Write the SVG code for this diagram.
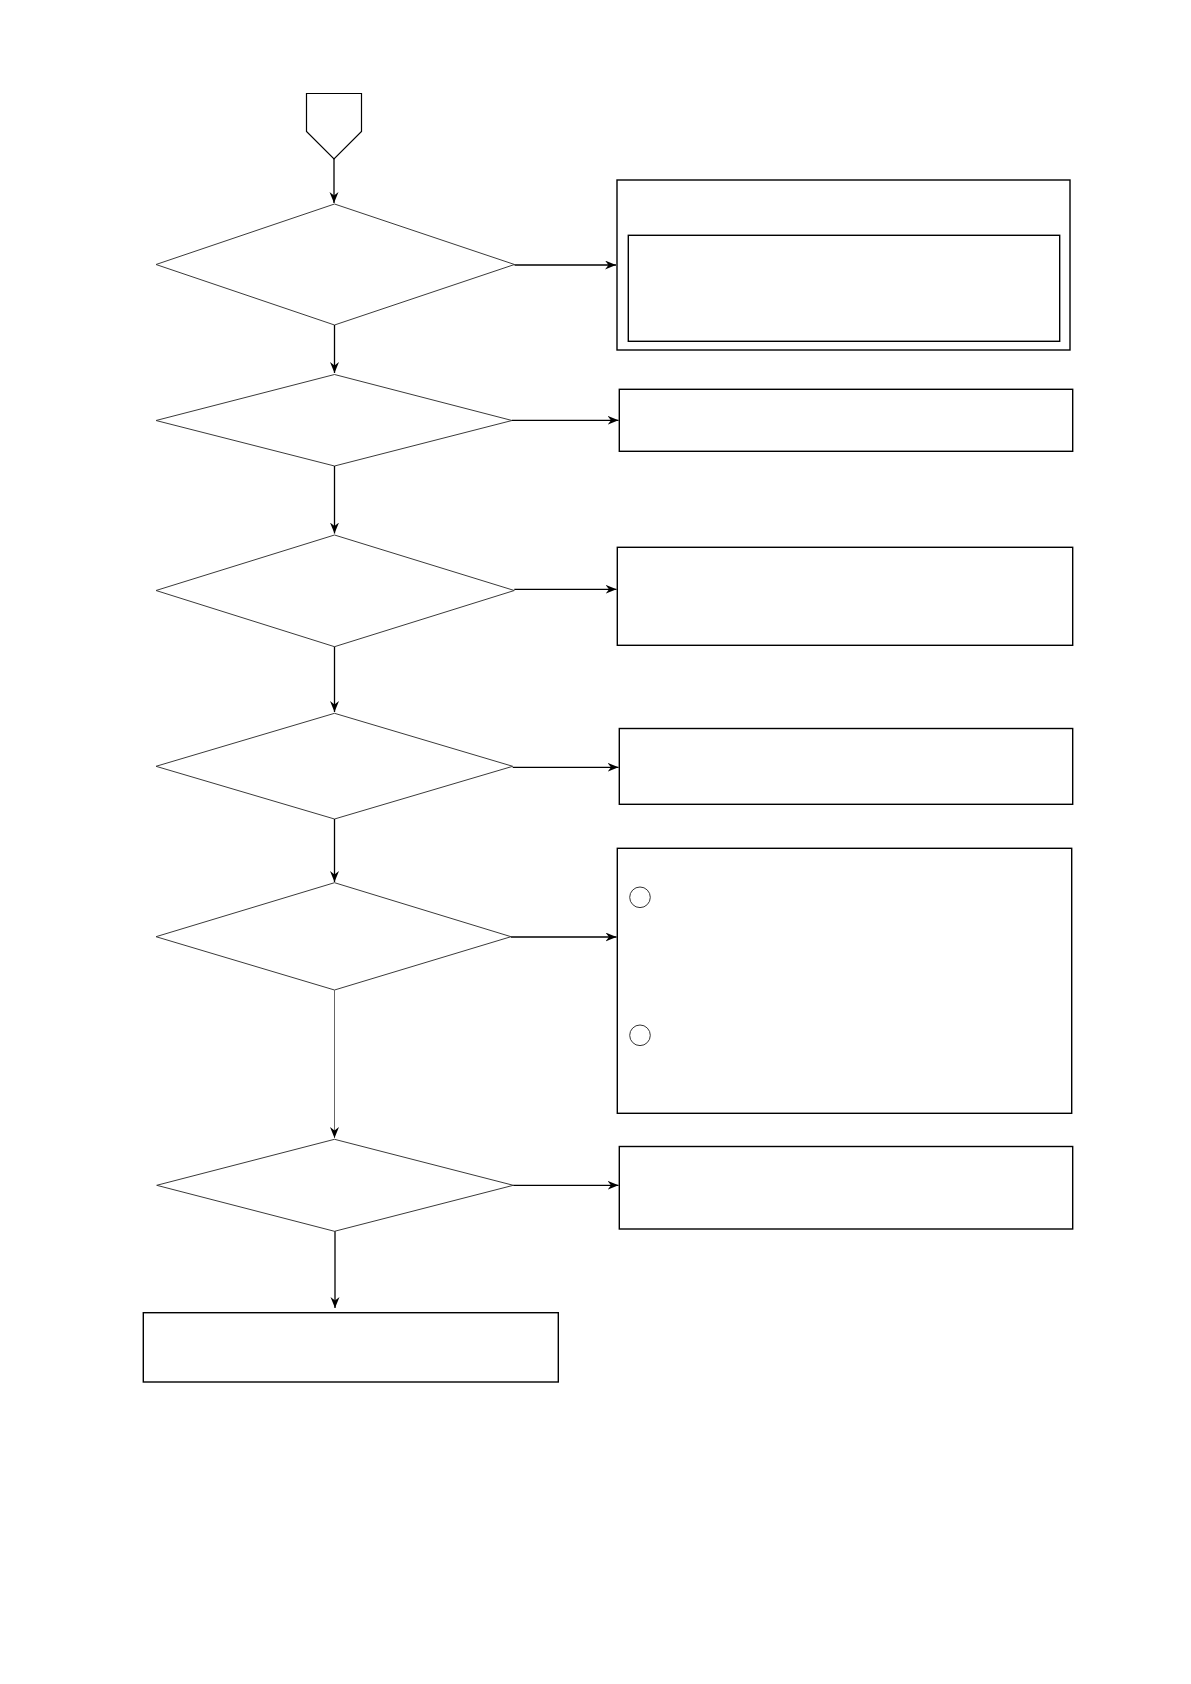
<svg xmlns="http://www.w3.org/2000/svg" width="1191" height="1684" viewBox="0 0 1191 1684">
  <style>
    .box { fill: none; stroke: #000; stroke-width: 1.4; }
    .dia { fill: none; stroke: #3a3a3a; stroke-width: 1; }
    .pent { fill: none; stroke: #000; stroke-width: 1.2; }
    .circ { fill: none; stroke: #333; stroke-width: 1; }
    .arr { fill: none; stroke: #000; stroke-width: 1.3; marker-end: url(#ah); }
    .arr-g { fill: none; stroke: #666; stroke-width: 1; marker-end: url(#ah); }
  </style>
  <defs>
    <marker id="ah" markerUnits="userSpaceOnUse" markerWidth="13" markerHeight="10" refX="11" refY="4.5" orient="auto">
      <path d="M0,0 L11,4.5 L0,9 L3.5,4.5 z" fill="#000"/>
    </marker>
  </defs>
  <rect width="1191" height="1684" fill="#fff"/>

  <g id="start">
    <path class="pent" d="M306.5,93.5 L361.5,93.5 L361.5,131.5 L334,159 L306.5,131.5 Z"/>
  </g>

  <g id="d1"><polygon class="dia" points="334.5,204 514.5,264.5 334.5,325 156,264.5"/></g>
  <g id="d2"><polygon class="dia" points="334.5,374.5 512,420.5 334.5,466 156,420.5"/></g>
  <g id="d3"><polygon class="dia" points="334.5,535 514.3,590.5 334.5,646.7 156,590.5"/></g>
  <g id="d4"><polygon class="dia" points="334.5,713.3 512.7,766.3 334.5,819 156,766.3"/></g>
  <g id="d5"><polygon class="dia" points="334.5,882.7 511,936.7 334.5,990 156,936.7"/></g>
  <g id="d6"><polygon class="dia" points="334.5,1139.3 513.3,1185.3 334.5,1231.3 156.7,1185.3"/></g>

  <g id="b1">
    <rect class="box" x="617" y="180" width="453" height="170"/>
    <rect class="box" x="628.3" y="235.3" width="431.4" height="106"/>
  </g>
  <g id="b2"><rect class="box" x="619.3" y="389.3" width="453.4" height="62"/></g>
  <g id="b3"><rect class="box" x="617.3" y="547.3" width="455.4" height="98"/></g>
  <g id="b4"><rect class="box" x="619.3" y="728.5" width="453.4" height="75.8"/></g>
  <g id="b5">
    <rect class="box" x="617.3" y="848.3" width="454.4" height="265"/>
    <circle class="circ" cx="640" cy="897.3" r="10.3"/>
    <circle class="circ" cx="640" cy="1035.3" r="10.3"/>
  </g>
  <g id="b6"><rect class="box" x="619.3" y="1146.5" width="453.4" height="82.5"/></g>
  <g id="b7"><rect class="box" x="143.3" y="1312.7" width="415" height="69.3"/></g>

  <g id="connectors">
    <line class="arr" x1="334" y1="159" x2="334" y2="203"/>
    <line class="arr" x1="334.5" y1="325" x2="334.5" y2="373"/>
    <line class="arr" x1="334.5" y1="466" x2="334.5" y2="533.5"/>
    <line class="arr" x1="334.5" y1="646.7" x2="334.5" y2="712"/>
    <line class="arr" x1="334.5" y1="819" x2="334.5" y2="882"/>
    <line class="arr-g" x1="334.5" y1="990" x2="334.5" y2="1138"/>
    <line class="arr" x1="335" y1="1231.3" x2="335" y2="1308"/>

    <line class="arr" x1="514.5" y1="265" x2="616" y2="265"/>
    <line class="arr" x1="512" y1="420.3" x2="618.5" y2="420.3"/>
    <line class="arr" x1="514.3" y1="589.3" x2="616.5" y2="589.3"/>
    <line class="arr" x1="512.7" y1="767.3" x2="618.5" y2="767.3"/>
    <line class="arr" x1="511" y1="937" x2="616.5" y2="937"/>
    <line class="arr" x1="513.3" y1="1185.3" x2="618.5" y2="1185.3"/>
  </g>
</svg>
